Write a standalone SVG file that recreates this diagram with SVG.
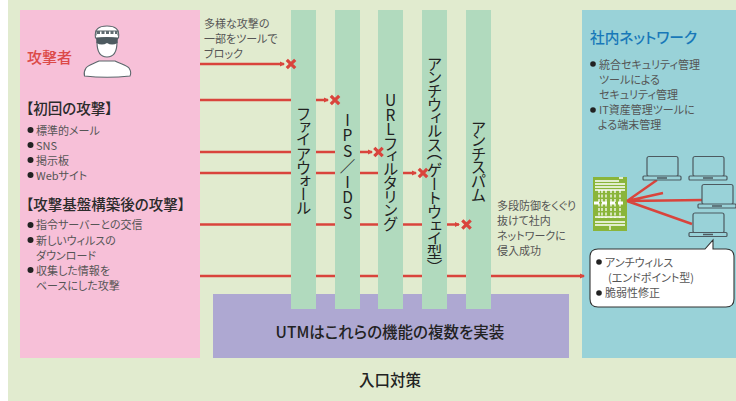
<svg xmlns="http://www.w3.org/2000/svg" width="736" height="401" viewBox="0 0 736 401">
<style>
text{font-family:"Noto Sans CJK JP","Noto Sans",sans-serif;fill:#4a4a4a;font-feature-settings:"palt"}
.s{font-size:11px;fill:#555}
.h{font-size:14.500px;font-weight:500;fill:#2b2b2b}
.v{font-size:15.500px;fill:#222;writing-mode:vertical-rl;text-orientation:upright;font-feature-settings:"vpal"}
.r{stroke:#d9443c;stroke-width:2.400;fill:none}
.col{fill:#b1dabe}
.lap{fill:#99d2d8;stroke:#4d5a60;stroke-width:1.200}
.w{stroke:#fff;stroke-width:1.300;fill:none}
</style>
<defs>
<marker id="a" markerWidth="6" markerHeight="6" refX="4" refY="3" orient="auto" markerUnits="userSpaceOnUse"><path d="M0,0.500L5,3L0,5.500z" fill="#d9443c"/></marker>
<g id="x"><path d="M-4.200,-4.200L4.200,4.200M4.200,-4.200L-4.200,4.200" stroke="#d9443c" stroke-width="3.200" fill="none"/></g>
<g id="laptop"><rect class="lap" x="4" y="0" width="31" height="20" rx="2"/><rect class="lap" x="0" y="19.500" width="38" height="4" rx="1"/><path d="M14,21.500h10" stroke="#4d5a60" stroke-width="1.500"/></g>
</defs>
<rect width="736" height="401" fill="#fff"/>
<rect x="8" y="0" width="728" height="401" fill="#e1ebcf"/>
<g id="attacker">
<rect x="20" y="10" width="180" height="348" fill="#f7c0d8"/>
<text x="27" y="63" font-size="15" font-weight="500" style="fill:#dc4a48">攻撃者</text>
<g id="person" stroke="#5a666b" stroke-width="1.100">
<path d="M99,61C93,64 88,65 86,68C84,71 84,74 84.500,76Q107,78.500 130,76C131,74 131,71 129,68C127,65 121,64 115,61Z" fill="#fff"/>
<path d="M97,42C97,52 100,57 107,57C114,57 117,52 117,42Z" fill="#fff"/>
<path d="M95.500,38C94,29 99,26 107,26C115,26 120,29 118.500,38Z" fill="#fff"/>
<path d="M96,35.500V31H118V35.500" fill="none"/>
<path d="M97,32.500h20" stroke-width="3" stroke-dasharray="3 1.500" fill="none" stroke="#5f6b70"/>
<path d="M96,38Q107,36 118,38L117.500,43Q112,46 107,43Q102,46 96.500,43Z" fill="#4d5a60" stroke="none"/>
</g>
<text x="26" y="114" class="h">【初回の攻撃】</text>
<circle cx="30.500" cy="130" r="3" fill="#222"/><text x="36" y="135" class="s">標準的メール</text>
<circle cx="30.500" cy="145" r="3" fill="#222"/><text x="36" y="150" class="s">SNS</text>
<circle cx="30.500" cy="160" r="3" fill="#222"/><text x="36" y="165" class="s">掲示板</text>
<circle cx="30.500" cy="175" r="3" fill="#222"/><text x="36" y="180" class="s">Webサイト</text>
<text x="26" y="210" class="h">【攻撃基盤構築後の攻撃】</text>
<circle cx="30.500" cy="225" r="3" fill="#222"/><text x="36" y="229" class="s">指令サーバーとの交信</text>
<circle cx="30.500" cy="240" r="3" fill="#222"/><text x="36" y="245" class="s">新しいウィルスの</text>
<text x="36" y="260" class="s">ダウンロード</text>
<circle cx="30.500" cy="270" r="3" fill="#222"/><text x="36" y="275" class="s">収集した情報を</text>
<text x="36" y="290" class="s">ベースにした攻撃</text>
</g>
<g id="note-block"><text x="204" y="28" class="s">多様な攻撃の</text><text x="204" y="43" class="s">一部をツールで</text><text x="204" y="58" class="s">ブロック</text></g>
<g id="utm"><rect x="213" y="294" width="356" height="64" fill="#aea8d2"/><text x="390" y="338" text-anchor="middle" font-size="15.500" font-weight="500" style="fill:#222">UTMはこれらの機能の複数を実装</text></g>
<g id="network">
<rect x="582" y="10" width="154" height="348" fill="#99d2d8"/>
<text x="590" y="43" font-size="14.700" font-weight="500" style="fill:#1878b8">社内ネットワーク</text>
<circle cx="593" cy="64" r="2.800" fill="#222"/><text x="599" y="69" class="s">統合セキュリティ管理</text>
<text x="599" y="84" class="s">ツールによる</text><text x="599" y="99" class="s">セキュリティ管理</text>
<circle cx="593" cy="110" r="2.800" fill="#222"/><text x="599" y="114" class="s">IT資産管理ツールに</text>
<text x="598" y="129" class="s">よる端末管理</text>
</g>
<g id="connectors">
<path class="r" d="M200,64H284" marker-end="url(#a)"/>
<path class="r" d="M200,100H328" marker-end="url(#a)"/>
<path class="r" d="M200,152H372" marker-end="url(#a)"/>
<path class="r" d="M200,173H416" marker-end="url(#a)"/>
<path class="r" d="M200,224.500H459" marker-end="url(#a)"/>
<path class="r" d="M200,276H584" marker-end="url(#a)"/>
</g>
<g id="filters">
<g id="fw"><rect class="col" x="291" y="10" width="25" height="299"/><text class="v" x="303.500" y="107" letter-spacing="-0.400">ファイアウォール</text></g>
<g id="ips"><rect class="col" x="335" y="10" width="25" height="299"/><text class="v" x="347.500" y="112">IPS／IDS</text></g>
<g id="url"><rect class="col" x="378" y="10" width="25" height="299"/><text class="v" x="390.500" y="92" letter-spacing="-0.600">URLフィルタリング</text></g>
<g id="av"><rect class="col" x="422" y="10" width="25" height="299"/><text class="v" x="434.500" y="56" letter-spacing="-0.400">アンチウィルス<tspan letter-spacing="2">（</tspan>ゲートウェイ型）</text></g>
<g id="spam"><rect class="col" x="466" y="10" width="25" height="299"/><text class="v" x="478.500" y="120" letter-spacing="-0.900">アンチスパム</text></g>
</g>
<g id="marks"><use href="#x" x="291" y="64"/><use href="#x" x="335" y="100"/><use href="#x" x="378.500" y="152"/><use href="#x" x="423" y="173"/><use href="#x" x="466.500" y="224.500"/></g>
<g id="note-pass"><text x="497" y="210" class="s">多段防御をくぐり</text><text x="497" y="225" class="s">抜けて社内</text><text x="497" y="240" class="s">ネットワークに</text><text x="497" y="255" class="s">侵入成功</text></g>
<g id="server">
<rect x="593" y="177" width="34" height="54" fill="#8ab53a"/>
<path class="w" d="M595,181h24M595,184h30M595,187h30M595,190h30M595,222h30M595,225h30M595,217h30"/>
<path class="w" stroke-dasharray="3 1.500" stroke-width="2" d="M599,190v28M602,190v28M606,190v28M611,190v28M615,190v28M620,190v28"/>
<path d="M594,203h30" stroke="#fff" stroke-width="3" stroke-dasharray="5 3"/>
<path class="w" d="M610,226v4M619,178h4"/>
</g>
<g id="pc-links" stroke="#d9443c" stroke-width="2.400"><path d="M627,201L657,180M627,201L663,193M627,201L703,200M627,201L692,224"/></g>
<use id="pc1" href="#laptop" x="643" y="156.500"/>
<use id="pc2" href="#laptop" x="689" y="156.500"/>
<use id="pc3" href="#laptop" x="698" y="184.500"/>
<use id="pc4" href="#laptop" x="689" y="213"/>
<g id="callout">
<path d="M598,249H705L713,240V249H726Q734,249 734,257V299Q734,307 726,307H598Q590,307 590,299V257Q590,249 598,249Z" fill="#fff" stroke="#333" stroke-width="1.100"/>
<circle cx="599" cy="262" r="2.800" fill="#222"/><text x="605" y="267" class="s">アンチウィルス</text>
<text x="608" y="282" class="s">(エンドポイント型)</text>
<circle cx="599" cy="293" r="2.800" fill="#222"/><text x="605" y="297" class="s">脆弱性修正</text>
</g>
<g id="caption"><text x="390" y="386" text-anchor="middle" font-size="15.500" font-weight="500" style="fill:#222">入口対策</text></g>
</svg>
